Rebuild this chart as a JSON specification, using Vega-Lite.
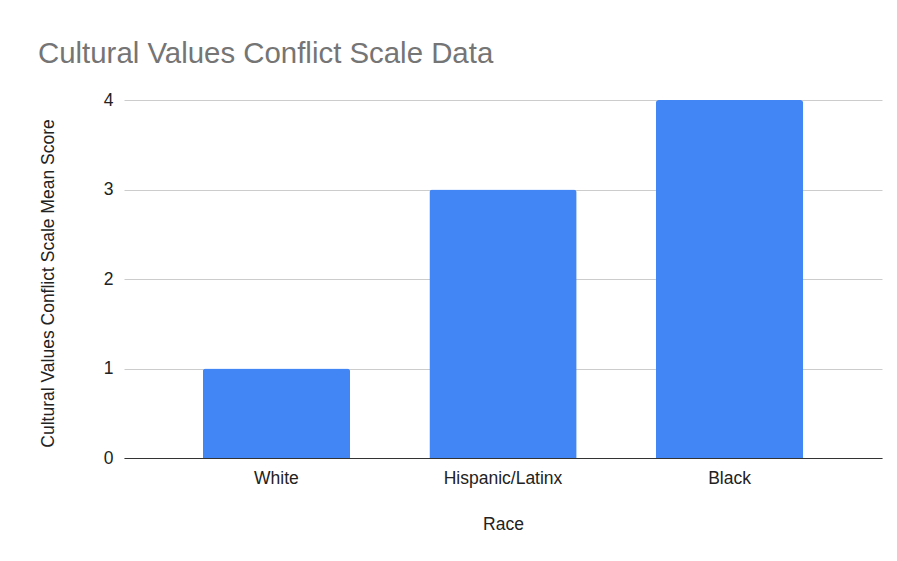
{
  "$schema": "https://vega.github.io/schema/vega-lite/v6.json",
  "autosize": "none",
  "width": 758,
  "height": 358,
  "padding": {"left": 124, "top": 100, "right": 15, "bottom": 103},
  "background": "white",
  "title": {
    "text": "Cultural Values Conflict Scale Data",
    "anchor": "start",
    "frame": "group",
    "dx": -86,
    "offset": 22,
    "font": "Liberation Sans",
    "fontSize": 29.4,
    "fontWeight": "normal",
    "color": "#757575"
  },
  "data": {
    "values": [
      {"Race": "White", "Score": 1},
      {"Race": "Hispanic/Latinx", "Score": 3},
      {"Race": "Black", "Score": 4}
    ]
  },
  "mark": {"type": "bar", "color": "#4285f4", "cornerRadiusTopLeft": 3, "cornerRadiusTopRight": 3},
  "encoding": {
    "x": {
      "field": "Race",
      "type": "nominal",
      "sort": null,
      "scale": {"paddingInner": 0.35, "paddingOuter": 0.348},
      "axis": {
        "title": "Race",
        "labelAngle": 0,
        "ticks": false,
        "domainColor": "#333333",
        "labelPadding": 11,
        "titlePadding": 29
      }
    },
    "y": {
      "field": "Score",
      "type": "quantitative",
      "scale": {"domain": [0, 4]},
      "axis": {
        "title": "Cultural Values Conflict Scale Mean Score",
        "values": [0, 1, 2, 3, 4],
        "domain": false,
        "ticks": false,
        "gridColor": "#cccccc",
        "labelPadding": 11,
        "titlePadding": 46,
        "titleY": 183
      }
    }
  },
  "config": {
    "view": {"stroke": null},
    "axis": {
      "labelFont": "Liberation Sans",
      "labelFontSize": 17.5,
      "labelColor": "#222222",
      "titleFont": "Liberation Sans",
      "titleFontSize": 17.5,
      "titleFontWeight": "normal",
      "titleColor": "#222222"
    }
  }
}
